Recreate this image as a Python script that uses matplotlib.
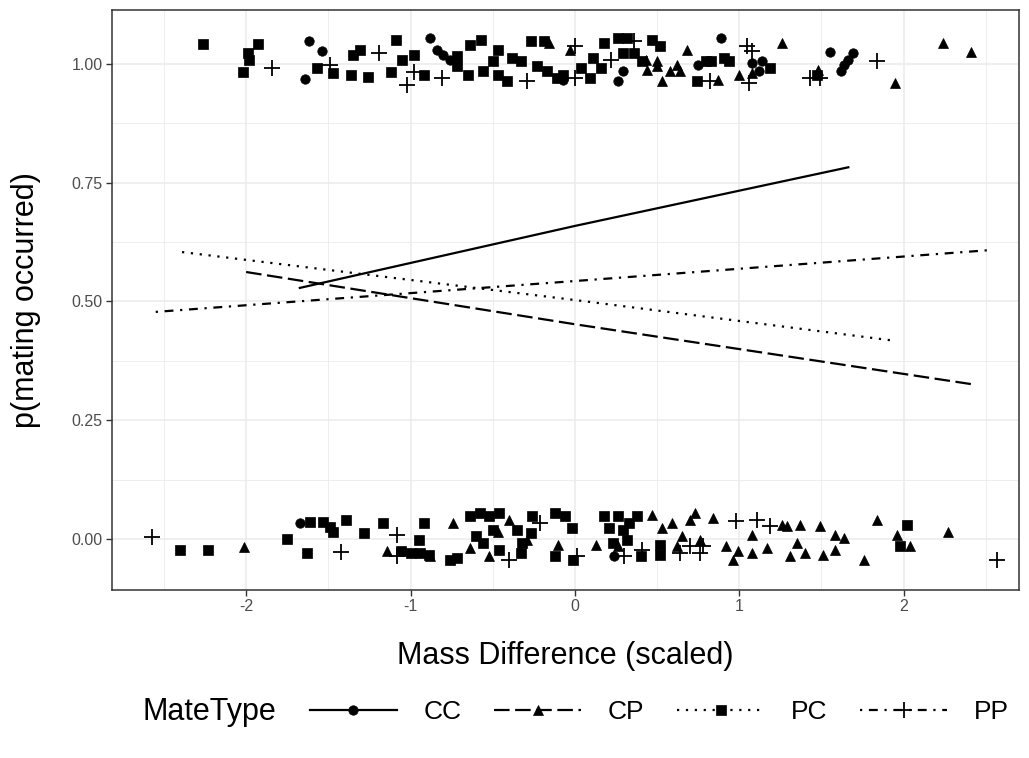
import matplotlib.pyplot as plt
import numpy as np
from matplotlib.lines import Line2D

plt.rcParams['font.family'] = ['Liberation Sans', 'DejaVu Sans']
plt.rcParams['axes.unicode_minus'] = False

types = ['CC', 'CP', 'PC', 'PP']

# jittered observations (mass difference, outcome with jitter)
cc_x = [-1.62, -1.54, -1.64, -0.88, -0.84, -0.80, -0.76, -0.07, 0.26, 0.29, 0.75, 0.89,
        1.08, 1.14, 1.12, 1.55, 1.69, 1.66, 1.64, 1.62,
        -1.67, 0.24]
cc_y = [1.048, 1.027, 0.968, 1.055, 1.029, 1.019, 1.008, 0.966, 0.964, 0.985, 0.998, 1.055,
        1.002, 1.006, 0.985, 1.025, 1.023, 1.008, 0.998, 0.985,
        0.034, -0.036]

cp_x = [-0.16, -0.03, 0.43, 0.50, 0.44, 0.50, 0.53, 0.58, 0.62, 0.68, 0.64, 0.87, 1.08, 1.00,
        1.26, 1.48, 1.95, 2.24, 2.41,
        -2.01, -1.14, -0.88, -0.74, -0.52, -0.40, -0.10, 0.13, 0.26, 0.47, 0.53, 0.59, 0.70,
        0.73, 0.65, 0.62, 0.76, 0.84, 1.26, 1.29, 1.37, 1.49, 1.08, 1.58, 1.64, 1.84, 1.96,
        2.04, 0.92, 0.99, 1.08, 0.96, 1.17, 1.35, 1.31, 1.40, 1.51, 1.58, 1.76, 2.27,
        -0.47, -0.29, -0.64]
cp_y = [1.044, 1.029, 1.008, 1.006, 0.987, 0.996, 0.964, 0.985, 0.998, 1.029, 0.985, 0.966,
        0.981, 0.977, 1.044, 0.987, 0.960, 1.044, 1.025,
        -0.017, -0.025, -0.036, 0.034, -0.036, 0.040, -0.013, -0.013, -0.015, 0.051, 0.023,
        0.034, 0.040, 0.055, 0.006, -0.015, -0.002, 0.044, 0.029, 0.027, 0.029, 0.027, 0.008,
        0.008, 0.002, 0.040, 0.008, -0.015, -0.015, -0.025, -0.029, -0.044, -0.019, -0.008,
        -0.036, -0.029, -0.034, -0.023, -0.044, 0.015,
        0.015, -0.002, -0.019]

pc_x = [-2.26, -1.93, -1.99, -1.98, -2.02, -1.57, -1.47, -1.36, -1.31, -1.35, -1.26, -1.09,
        -1.12, -1.05, -0.98, -0.92, -0.72, -0.72, -0.65, -0.64, -0.57, -0.56, -0.50, -0.47,
        -0.41, -0.47, -0.38, -0.33, -0.27, -0.19, -0.23, -0.17, -0.11, -0.07, 0.04, 0.11,
        0.16, 0.09, 0.18, 0.26, 0.32, 0.29, 0.36, 0.41, 0.47, 0.52, 0.74, 0.80, 0.83, 0.91,
        0.94, 1.19, 1.47,
        -2.40, -2.23, -1.75, -1.63, -1.61, -1.53, -1.49, -1.47, -1.39, -1.28, -1.17, -1.06,
        -1.00, -0.94, -0.89, -0.92, -0.95, -0.76, -0.72, -0.64, -0.58, -0.52, -0.60, -0.56,
        -0.50, -0.46, -0.35, -0.32, -0.26, -0.27, -0.33, -0.46, -0.12, -0.06, -0.02, -0.12,
        -0.01, 0.18, 0.26, 0.21, 0.29, 0.33, 0.38, 0.23, 0.32, 0.40, 0.52, 0.52, 2.02, 1.98]
pc_y = [1.042, 1.042, 1.023, 1.008, 0.983, 0.992, 0.981, 0.977, 1.029, 1.019, 0.973, 1.051,
        0.983, 1.008, 1.019, 0.977, 0.996, 1.017, 0.977, 1.040, 1.051, 0.985, 1.006, 0.977,
        0.964, 1.029, 1.013, 1.006, 1.048, 1.048, 0.996, 0.985, 0.971, 0.977, 0.992, 1.013,
        0.992, 0.971, 1.044, 1.055, 1.055, 1.023, 1.023, 1.006, 1.051, 1.038, 0.964, 1.006,
        1.006, 1.013, 1.006, 0.992, 0.977,
        -0.023, -0.023, 0.000, -0.029, 0.036, 0.036, 0.025, 0.015, 0.040, 0.013, 0.034,
        -0.025, -0.029, -0.029, -0.034, 0.034, -0.002, -0.044, -0.040, 0.048, 0.055, 0.048,
        0.006, -0.008, 0.019, 0.055, 0.019, -0.008, 0.048, 0.013, -0.029, -0.023, 0.055,
        0.048, 0.023, -0.036, -0.044, 0.048, 0.048, 0.023, 0.019, 0.034, 0.048, -0.008,
        -0.002, -0.036, -0.034, -0.013, 0.029, -0.015]

pp_x = [-1.84, -1.49, -1.19, -0.98, -1.02, -0.81, -0.29, 0.00, 0.00, 0.22, 0.36, 0.82,
        1.05, 1.08, 1.06, 1.43, 1.49, 1.84,
        -2.57, -1.42, -1.08, -1.08, -0.21, -0.40, 0.01, 0.30, 0.41, 0.64, 0.70, 0.76, 0.78,
        0.98, 1.11, 1.19, 2.57]
pp_y = [0.992, 0.998, 1.023, 0.983, 0.956, 0.971, 0.964, 1.038, 0.971, 1.008, 1.048, 0.964,
        1.038, 1.027, 0.960, 0.971, 0.971, 1.006,
        0.004, -0.027, 0.008, -0.036, 0.034, -0.044, -0.036, -0.036, -0.023, -0.029, -0.015,
        -0.029, -0.015, 0.038, 0.040, 0.027, -0.044]

# fitted probabilities
cc_fit_x = [-1.68, 0.0, 1.67]
cc_fit_y = [0.528, 0.659, 0.783]
cp_fit_x = [-2.00, 0.0, 2.41]
cp_fit_y = [0.562, 0.452, 0.326]
pc_fit_x = [-2.39, 0.0, 1.95]
pc_fit_y = [0.604, 0.503, 0.417]
pp_fit_x = [-2.55, 0.0, 2.52]
pp_fit_y = [0.478, 0.543, 0.608]

points = {'CC': (cc_x, cc_y), 'CP': (cp_x, cp_y), 'PC': (pc_x, pc_y), 'PP': (pp_x, pp_y)}
fits = {'CC': (cc_fit_x, cc_fit_y), 'CP': (cp_fit_x, cp_fit_y),
        'PC': (pc_fit_x, pc_fit_y), 'PP': (pp_fit_x, pp_fit_y)}

markers = {'CC': 'o', 'CP': '^', 'PC': 's', 'PP': '+'}
msizes = {'CC': 6.8, 'CP': 7.4, 'PC': 6.6, 'PP': 11}
dashes = {'CC': (None, None), 'CP': (7, 2.5), 'PC': (1, 3), 'PP': (1, 3, 4, 3)}

fig = plt.figure(figsize=(10.29, 7.58), dpi=100)
ax = fig.add_axes([0.109, 0.222, 0.881, 0.765])

for t in types:
    x, y = points[t]
    ax.plot(x, y, linestyle='none', marker=markers[t], markersize=msizes[t],
            color='black', markeredgewidth=1.3 if t == 'PP' else 0.5)

lw = 1.6
for t in types:
    x, y = fits[t]
    line, = ax.plot(x, y, color='black', linewidth=lw, solid_capstyle='butt')
    if t != 'CC':
        line.set_dashes(dashes[t])

ax.set_xlim(-2.815, 2.70)
ax.set_ylim(-0.107, 1.114)
ax.set_xticks([-2, -1, 0, 1, 2])
ax.set_xticks([-2.5, -1.5, -0.5, 0.5, 1.5, 2.5], minor=True)
ax.set_yticks([0, 0.25, 0.5, 0.75, 1.0])
ax.set_yticks([0.125, 0.375, 0.625, 0.875], minor=True)
ax.set_yticklabels(['0.00', '0.25', '0.50', '0.75', '1.00'])
ax.grid(which='major', color='#EBEBEB', linewidth=1.1)
ax.grid(which='minor', color='#EBEBEB', linewidth=0.6)
ax.set_axisbelow(True)
ax.tick_params(which='major', length=4, width=1, color='#333333', labelcolor='#4D4D4D',
               labelsize=11.5, pad=3)
ax.tick_params(which='minor', length=0)
for s in ax.spines.values():
    s.set_color('#333333')
    s.set_linewidth(1.1)

ax.set_xlabel('Mass Difference (scaled)', fontsize=22, labelpad=19)
ax.set_ylabel('p(mating occurred)', fontsize=22, labelpad=22)

handles = []
for t in types:
    h = Line2D([], [], color='black', linewidth=lw, marker=markers[t],
               markersize=msizes[t], markeredgewidth=1.3 if t == 'PP' else 0.5)
    if t != 'CC':
        h.set_dashes(dashes[t])
    handles.append(h)

fig.text(0.138, 0.061, 'MateType', fontsize=22, va='center', ha='left')
fig.legend(handles, types, loc='center left', bbox_to_anchor=(0.301, 0.061), ncol=4,
           frameon=False, fontsize=19, handlelength=3.3, handletextpad=1.0,
           columnspacing=1.25, borderpad=0, borderaxespad=0)

fig.savefig('out.png', dpi=100)
